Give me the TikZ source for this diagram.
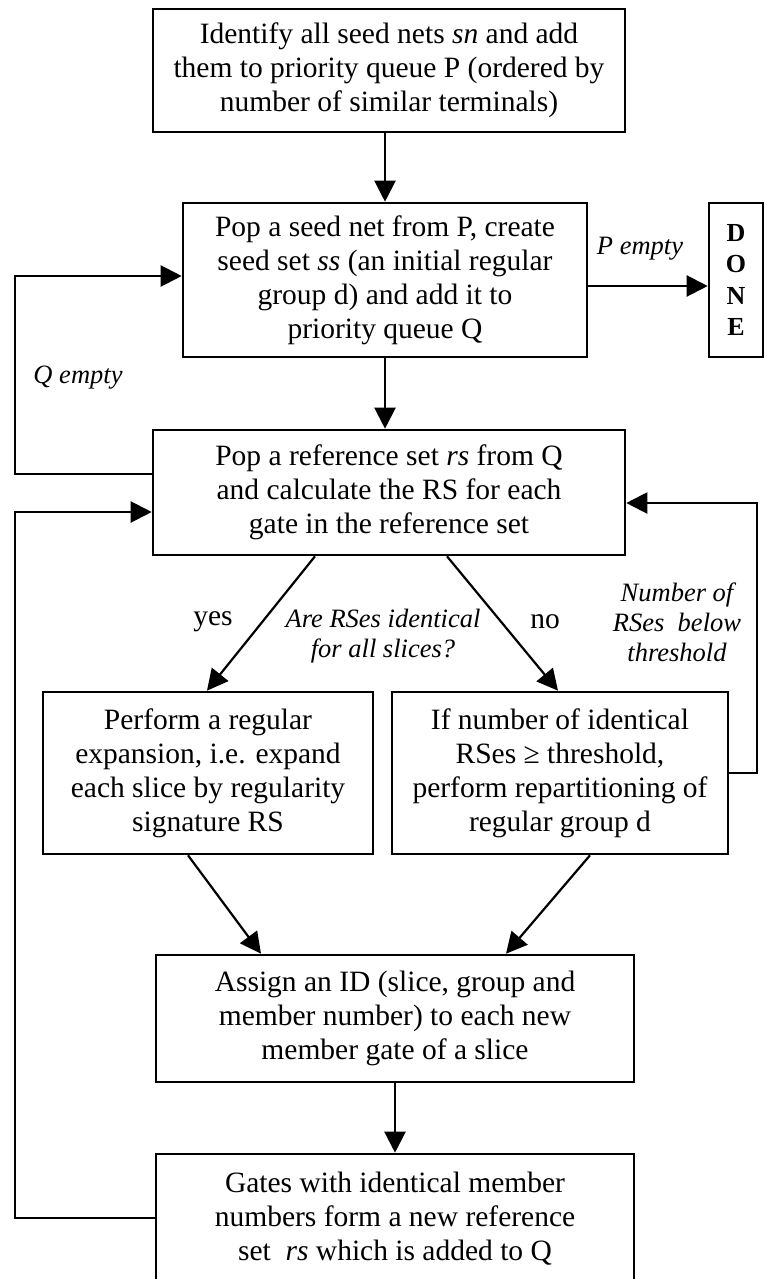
\documentclass[tikz,border=0pt]{standalone}
\usepackage{fontspec}
\setmainfont{Liberation Serif}
\usetikzlibrary{arrows.meta}
\begin{document}
\begin{tikzpicture}[x=1pt,y=-1pt,
  stepbox/.style={draw, line width=2.6pt, inner sep=0pt, align=center,
    font=\fontsize{29.5}{34}\selectfont},
  donebox/.style={draw, line width=2.6pt, inner sep=0pt, align=center,
    font=\fontsize{26}{31.5}\selectfont\bfseries},
  flow/.style={line width=2.2pt, -{Triangle[length=21pt,width=21pt]}},
  lbl/.style={align=center, inner sep=0pt, font=\fontsize{26.5}{30}\selectfont\itshape},
  ans/.style={inner sep=0pt, font=\fontsize{29.5}{34}\selectfont},
]
\clip (0,0) rectangle (765,1279);
\fill[white] (0,0) rectangle (765,1279);

% process steps
\node[stepbox, minimum width=472pt, minimum height=123pt] (b1) at (389,70.5)
  {Identify all seed nets \textit{sn} and add\\them to priority queue P (ordered by\\number of similar terminals)};
\node[stepbox, minimum width=404pt, minimum height=154pt] (b2) at (385,280)
  {Pop a seed net from P, create\\seed set \textit{ss} (an initial regular\\group d) and add it to\\priority queue Q};
\node[donebox, minimum width=54pt, minimum height=154pt] (done) at (736,280)
  {D\\O\\N\\E};
\node[stepbox, minimum width=472pt, minimum height=125pt] (b3) at (389,492.5)
  {Pop a reference set \textit{rs} from Q\\and calculate the RS for each\\gate in the reference set};
\node[stepbox, minimum width=330pt, minimum height=162pt] (b4) at (208,773)
  {Perform a regular\\expansion, i.e. expand\\each slice by regularity\\signature RS};
\node[stepbox, minimum width=336pt, minimum height=162pt] (b5) at (560,773)
  {If number of identical\\RSes ≥ threshold,\\perform repartitioning of\\regular group d};
\node[stepbox, minimum width=478pt, minimum height=127pt] (b6) at (395,1018.5)
  {Assign an ID (slice, group and\\member number) to each new\\member gate of a slice};
\node[stepbox, minimum width=478pt, minimum height=129pt] (b7) at (395,1218.5)
  {Gates with identical member\\numbers form a new reference\\set\ \ \textit{rs} which is added to Q};

% labels
\node[lbl] (lp) at (640,249) {P empty};
\node[lbl] (lq) at (78,378) {Q empty};
\node[ans] (lyes) at (213,622) {yes};
\node[ans] (lno) at (545,622) {no};
\node[lbl] (lask) at (383,636) {Are RSes identical\\for all slices?};
\node[lbl] (lthr) at (677,622) {Number of\\RSes\ \ below\\threshold};

% rail corners and branch points
\coordinate (q1) at (15,474);
\coordinate (q2) at (15,276);
\coordinate (r1) at (15,1218);
\coordinate (r2) at (15,512);
\coordinate (t1) at (757,773);
\coordinate (t2) at (757,503);
\coordinate (pe) at (0,286);
\coordinate (ya) at (315,0);
\coordinate (yb) at (207,0);
\coordinate (na) at (447,0);
\coordinate (nb) at (558,0);
\coordinate (ma) at (188,0);
\coordinate (mb) at (261,0);
\coordinate (sa) at (590,0);
\coordinate (sb) at (506,0);

% connectors
\draw[flow] (b1.south -| b2.north) -- (b2.north);
\draw[flow] (b2.south) -- (b2.south |- b3.north);
\draw[flow] (pe -| b2.east) -- (pe -| done.west);
\draw[flow] (b3.west |- q1) -- (q1) -- (q2) -- (q2 -| b2.west);
\draw[flow] (b7.west |- r1) -- (r1) -- (r2) -- (r2 -| b3.west);
\draw[flow] (b5.east |- t1) -- (t1) -- (t2) -- (t2 -| b3.east);
\draw[flow] (b3.south -| ya) -- (b4.north -| yb);
\draw[flow] (b3.south -| na) -- (b5.north -| nb);
\draw[flow] (b4.south -| ma) -- (b6.north -| mb);
\draw[flow] (b5.south -| sa) -- (b6.north -| sb);
\draw[flow] (b6.south -| b7.north) -- (b7.north);
\end{tikzpicture}
\end{document}
